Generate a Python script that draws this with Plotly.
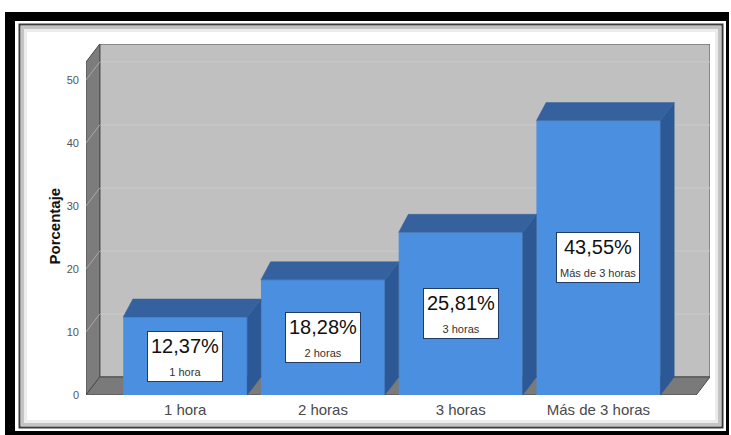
import plotly.graph_objects as go

# ---- data ----
categories = ["1 hora", "2 horas", "3 horas", "Más de 3 horas"]
values = [12.37, 18.28, 25.81, 43.55]
value_labels = ["12,37%", "18,28%", "25,81%", "43,55%"]
y_ticks = [0, 10, 20, 30, 40, 50]
y_title = "Porcentaje"

# ---- geometry (axis units) ----
X_MIN, X_MAX = -0.72, 3.81        # full plot range (front-left to back-right)
DX = 0.10                         # wall depth (x units)
Y_MAX = 55.7                      # full plot range top (back wall top)
DY = 2.86                         # depth (y units)
X_FRONT_MAX = X_MAX - DX
Y_FRONT_MAX = Y_MAX - DY
BAR_W = 0.9
BAR_DXL, BAR_DXR = 0.07, 0.10

# pixel layout of plot area
W, H = 731, 435
L, R, T, B = 86, 710, 44, 395

def px_x(p):
    return (p - L) / (R - L)

def px_y(q):
    return (B - q) / (B - T)

FRONT = "#4b8fe1"
SIDE = "#2c5896"
TOP = "#35629f"

fig = go.Figure()

xs = list(range(len(categories)))

# side and top faces of bars
for i, v in zip(xs, values):
    xr = i + BAR_W / 2
    xl = i - BAR_W / 2
    fig.add_trace(go.Scatter(
        x=[xr, xr + BAR_DXR, xr + BAR_DXR, xr, xr],
        y=[0, DY, v + DY, v, 0],
        mode="lines", fill="toself", fillcolor=SIDE,
        line=dict(color=SIDE, width=0.5), hoverinfo="skip", showlegend=False))
    fig.add_trace(go.Scatter(
        x=[xl, xl + BAR_DXL, xr + BAR_DXR, xr, xl],
        y=[v, v + DY, v + DY, v, v],
        mode="lines", fill="toself", fillcolor=TOP,
        line=dict(color=TOP, width=0.5), hoverinfo="skip", showlegend=False))

# front faces
fig.add_trace(go.Bar(
    x=xs, y=values, width=BAR_W, marker=dict(color=FRONT, line=dict(width=0)),
    hoverinfo="skip", showlegend=False))

shapes = []
# frame
shapes.append(dict(type="rect", xref="paper", yref="paper", layer="below",
                   x0=px_x(5), x1=px_x(729), y0=px_y(437), y1=px_y(12),
                   fillcolor="#000000", line=dict(width=0)))
shapes.append(dict(type="rect", xref="paper", yref="paper", layer="below",
                   x0=px_x(15), x1=px_x(726), y0=px_y(431), y1=px_y(21),
                   fillcolor="#ffffff", line=dict(width=0)))
shapes.append(dict(type="rect", xref="paper", yref="paper", layer="below",
                   x0=px_x(19.5), x1=px_x(722.5), y0=px_y(427.5), y1=px_y(24.5),
                   fillcolor="rgba(0,0,0,0)", line=dict(color="#3a3a3a", width=2)))
shapes.append(dict(type="rect", xref="paper", yref="paper", layer="below",
                   x0=px_x(22.5), x1=px_x(719.5), y0=px_y(424.5), y1=px_y(27.5),
                   fillcolor="rgba(0,0,0,0)", line=dict(color="#c4c4c4", width=3)))
shapes.append(dict(type="rect", xref="paper", yref="paper", layer="below",
                   x0=px_x(25.5), x1=px_x(716.5), y0=px_y(421.5), y1=px_y(30.5),
                   fillcolor="rgba(0,0,0,0)", line=dict(color="#ececec", width=3)))

def path(pts):
    return "M " + " L ".join(f"{x},{y}" for x, y in pts) + " Z"

# back wall
shapes.append(dict(type="path", xref="x", yref="y", layer="below",
                   path=path([(X_MIN + DX, DY), (X_MAX, DY), (X_MAX, Y_MAX), (X_MIN + DX, Y_MAX)]),
                   fillcolor="#c0c0c0", line=dict(color="#505050", width=1)))
# back wall gridlines
for t in y_ticks[1:]:
    shapes.append(dict(type="line", xref="x", yref="y", layer="below",
                       x0=X_MIN + DX, x1=X_MAX, y0=t + DY, y1=t + DY,
                       line=dict(color="#cacaca", width=1)))
# left wall
shapes.append(dict(type="path", xref="x", yref="y", layer="below",
                   path=path([(X_MIN, 0), (X_MIN, Y_FRONT_MAX), (X_MIN + DX, Y_MAX), (X_MIN + DX, DY)]),
                   fillcolor="#7c7c7c", line=dict(color="#4a4a4a", width=1)))
for t in y_ticks[1:]:
    shapes.append(dict(type="line", xref="x", yref="y", layer="below",
                       x0=X_MIN, x1=X_MIN + DX, y0=t, y1=t + DY,
                       line=dict(color="#a9a9a9", width=1)))
# floor
shapes.append(dict(type="path", xref="x", yref="y", layer="below",
                   path=path([(X_MIN, 0), (X_FRONT_MAX, 0), (X_MAX, DY), (X_MIN + DX, DY)]),
                   fillcolor="#7a7a7a", line=dict(color="#4a4a4a", width=1)))

annotations = []
for i, v, lab, cat in zip(xs, values, value_labels, categories):
    annotations.append(dict(
        x=i, y=v / 2, xref="x", yref="y", showarrow=False,
        text=f"<span style='font-size:20px'>{lab}</span><br>"
             f"<span style='font-size:11px;color:#333'>{cat}</span>",
        font=dict(family="Arial, Liberation Sans", size=18, color="#111111"),
        bgcolor="#ffffff", bordercolor="#1f3b66", borderwidth=1, borderpad=3))

annotations.append(dict(
    x=px_x(43), y=px_y(226), xref="paper", yref="paper", showarrow=False,
    text=f"<b>{y_title}</b>", textangle=-90,
    font=dict(family="Arial, Liberation Sans", size=15, color="#111111")))

fig.update_layout(
    width=W, height=H,
    margin=dict(l=L, r=W - R, t=T, b=H - B, pad=0),
    paper_bgcolor="#ffffff", plot_bgcolor="rgba(0,0,0,0)",
    shapes=shapes, annotations=annotations,
    bargap=0.1,
    xaxis=dict(range=[X_MIN, X_MAX], tickvals=xs, ticktext=categories,
               showgrid=False, zeroline=False, showline=False, ticks="",
               ticklabelstandoff=4,
               tickfont=dict(family="Arial, Liberation Sans", size=15, color="#4a4a4a")),
    yaxis=dict(range=[0, Y_MAX], tickvals=y_ticks, showgrid=False, zeroline=False,
               showline=False, ticks="", ticklabelstandoff=6,
               tickfont=dict(family="Arial, Liberation Sans", size=11, color="#555555")),
)

fig.write_html("out.html", config={"displayModeBar": False},
               post_script="document.body.style.margin='0px';document.body.style.overflow='hidden';")
